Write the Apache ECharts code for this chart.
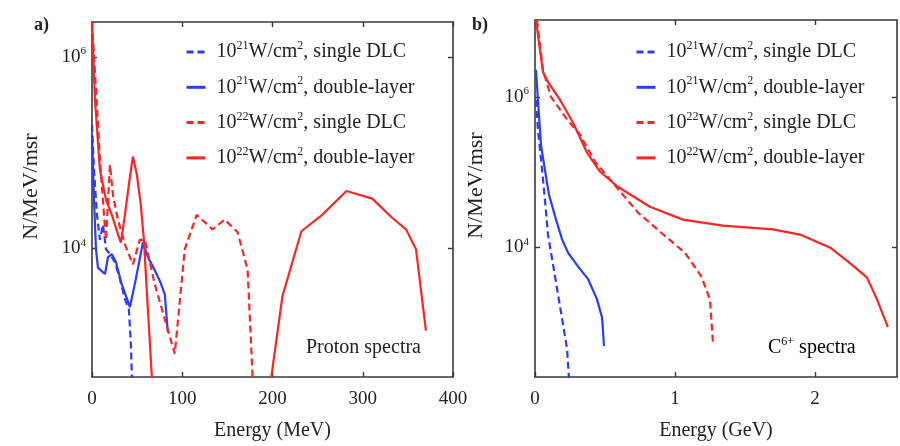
<!DOCTYPE html>
<html>
<head>
<meta charset="utf-8">
<script src="https://cdn.jsdelivr.net/npm/echarts@6/dist/echarts.min.js"></script>
<style>
  html, body { margin: 0; padding: 0; background: #fff; }
  #chart { width: 900px; height: 446px; }
</style>
</head>
<body>
<div id="chart"></div>
<script>
// ---- Series names (legend entries) ----
const seriesNames = [
  '10^21W/cm^2, single DLC',
  '10^21W/cm^2, double-layer',
  '10^22W/cm^2, single DLC',
  '10^22W/cm^2, double-layer'
];

// ---- Proton spectra: energy in MeV, N/MeV/msr ----
const protonBlueDashE = [0, 2.2, 5.5, 8.8, 12.2, 15.5, 19.9, 25.4, 30.9, 36.5, 40.9, 43.1, 44.2, 45.3];
const protonBlueDashN = [1.95e5, 6.6e4, 2.24e4, 1.23e4, 1.78e4, 9.8e3, 8.7e3, 7.2e3, 4.8e3, 2.95e3, 2.29e3, 1.0e3, 457, 166];

const protonBlueSolidE = [0, 2.2, 4.4, 6.6, 11, 14.4, 17.7, 22, 26.5, 33, 42, 48.6, 56.4, 61.9, 67.4, 75.1, 80.7, 84];
const protonBlueSolidN = [1.55e5, 3.24e4, 9.8e3, 6.3e3, 5.75e3, 5.4e3, 8.1e3, 8.7e3, 7.2e3, 4.2e3, 2.43e3, 4.8e3, 1.15e4, 8.1e3, 6.5e3, 4.6e3, 3.3e3, 1.33e3];

const protonRedDashE = [0, 4.4, 8.8, 13.3, 15.5, 19.9, 23.2, 28.7, 36.5, 45.3, 53, 58.6, 69.6, 80.7, 91.7, 102.8, 116, 133.7, 147, 161.3, 172.4, 177.9, 179];
const protonRedDashN = [2.32e6, 4.57e5, 8.5e4, 2.24e4, 1.23e4, 7.5e4, 3.63e4, 2.0e4, 1.1e4, 6.8e3, 1.23e4, 1.23e4, 4.2e3, 1.82e3, 794, 9.8e3, 2.24e4, 1.58e4, 2.0e4, 1.48e4, 6.0e3, 468, 166];

// double-layer 10^22: low-energy part, a gap, then the high-energy bump
const protonRedSolidE = [0, 3.3, 8.8, 15.5, 22, 28.7, 32, 36.5, 40.9, 45.3, 49.7, 54, 57.5, 61.9, 66.3, 68.5,
                         130,
                         192, 198.9, 211, 232, 255, 282, 310.5, 332.6, 348, 359, 370];
const protonRedSolidN = [2.32e6, 3.55e5, 6.6e4, 3.24e4, 2.24e4, 1.41e4, 1.15e4, 2.24e4, 4.68e4, 9.1e4, 5.9e4, 2.9e4, 1.23e4, 2.3e3, 457, 166,
                         null,
                         158, 468, 3.16e3, 1.51e4, 2.24e4, 3.98e4, 3.31e4, 2.09e4, 1.58e4, 9.8e3, 1.38e3];

// ---- C6+ spectra: energy in GeV, N/MeV/msr ----
const carbonBlueDashE = [0.007, 0.021, 0.043, 0.064, 0.093, 0.129, 0.164, 0.2, 0.229, 0.243];
const carbonBlueDashN = [9.1e5, 3.63e5, 1.48e5, 5.9e4, 1.48e4, 5.9e3, 2.4e3, 955, 447, 178];

const carbonBlueSolidE = [0.007, 0.021, 0.043, 0.071, 0.10, 0.15, 0.193, 0.236, 0.307, 0.379, 0.443, 0.479, 0.493];
const carbonBlueSolidN = [2.29e6, 9.1e5, 2.29e5, 1.07e5, 5.0e4, 2.34e4, 1.29e4, 8.5e3, 5.6e3, 3.8e3, 2.04e3, 1.17e3, 490];

const carbonRedDashE = [0.014, 0.057, 0.114, 0.229, 0.321, 0.429, 0.586, 0.736, 0.90, 1.071, 1.186, 1.25, 1.271];
const carbonRedDashN = [1.05e7, 2.29e6, 1.0e6, 5.0e5, 3.16e5, 1.38e5, 6.2e4, 2.9e4, 1.58e4, 8.5e3, 4.2e3, 2.04e3, 550];

const carbonRedSolidE = [0.007, 0.057, 0.093, 0.179, 0.271, 0.371, 0.464, 0.586, 0.821, 1.057, 1.343, 1.70, 1.893, 2.107, 2.25, 2.371, 2.443, 2.521];
const carbonRedSolidN = [1.05e7, 2.14e6, 1.58e6, 9.1e5, 4.57e5, 1.82e5, 1.02e5, 6.5e4, 3.47e4, 2.34e4, 1.95e4, 1.74e4, 1.48e4, 1.0e4, 6.2e3, 4.0e3, 2.04e3, 871];

// ---- Axis ranges and tick labels ----
const protonAxisE = { min: 0, max: 400, interval: 100 };
const protonAxisN = { min: 453, max: 2.32e6 };
const carbonAxisE = { min: 0, max: 2.586 };
const carbonTicksE = [0, 1, 2];
const carbonAxisN = { min: 190, max: 1.05e7 };
const decadeTicks = [1e4, 1e6];

const SERIF = '"Liberation Serif", "DejaVu Serif", serif';
const INK = '#222';
const AXIS_INK = '#3a3a3a';
const BLUE = '#2a3cff';
const RED = '#ff2424';

function pairs(xs, ys) {
  return xs.map((x, i) => [x, ys[i]]);
}

const chart = echarts.init(document.getElementById('chart'), null, { renderer: 'canvas' });

const supRich = {
  n: { fontFamily: SERIF, fontSize: 20, color: INK, lineHeight: 24 },
  s: { fontFamily: SERIF, fontSize: 12, color: INK, lineHeight: 12, verticalAlign: 'top' },
  g: { width: 6 }
};
const tickRich = {
  n: { fontFamily: SERIF, fontSize: 19, color: INK, lineHeight: 22 },
  s: { fontFamily: SERIF, fontSize: 11, color: INK, lineHeight: 11, verticalAlign: 'top' }
};

function legendText(name) {
  const m = name.match(/^10\^(\d+)W\/cm\^2(.*)$/);
  return '{g|}{n|10}{s|' + m[1] + '}{n|W/cm}{s|2}{n|' + m[2] + '}';
}
function decadeLabel(v) {
  return '{n|10}{s|' + Math.round(Math.log10(v)) + '}';
}

function valueAxisX(gridIndex, range, name, labelValues) {
  const ax = {
    type: 'value', gridIndex, min: range.min, max: range.max,
    name, nameLocation: 'middle', nameGap: 44,
    nameTextStyle: { fontFamily: SERIF, fontSize: 20, color: INK },
    axisLine: { show: true, onZero: false, lineStyle: { color: AXIS_INK, width: 1.6 } },
    axisTick: { show: true, inside: true, length: 5, lineStyle: { color: AXIS_INK, width: 1.4 } },
    axisLabel: { fontFamily: SERIF, fontSize: 19, color: INK, margin: 13 },
    splitLine: { show: false }
  };
  if (range.interval) ax.interval = range.interval;
  if (labelValues) {
    ax.axisLabel.customValues = labelValues;
    ax.axisTick.customValues = labelValues;
  }
  return ax;
}
function mirrorAxisX(gridIndex, range, labelValues) {
  const ax = {
    type: 'value', gridIndex, position: 'top', min: range.min, max: range.max,
    axisLine: { show: true, onZero: false, lineStyle: { color: AXIS_INK, width: 1.6 } },
    axisTick: { show: true, inside: true, length: 5, lineStyle: { color: AXIS_INK, width: 1.4 } },
    axisLabel: { show: false },
    splitLine: { show: false }
  };
  if (range.interval) ax.interval = range.interval;
  if (labelValues) ax.axisTick.customValues = labelValues;
  return ax;
}
function logAxisY(gridIndex, range, nameGap) {
  return {
    type: 'log', logBase: 10, gridIndex, min: range.min, max: range.max,
    name: 'N/MeV/msr', nameLocation: 'middle', nameGap,
    nameTextStyle: { fontFamily: SERIF, fontSize: 22, color: INK, padding: [0, 0, 0, 26] },
    axisLine: { show: true, onZero: false, lineStyle: { color: AXIS_INK, width: 1.6 } },
    axisTick: { show: true, inside: true, length: 5, customValues: decadeTicks, lineStyle: { color: AXIS_INK, width: 1.4 } },
    axisLabel: { customValues: decadeTicks, formatter: decadeLabel, rich: tickRich, margin: 6 },
    splitLine: { show: false }
  };
}
function mirrorLogY(gridIndex, range) {
  return {
    type: 'log', logBase: 10, gridIndex, position: 'right', min: range.min, max: range.max,
    axisLine: { show: true, onZero: false, lineStyle: { color: AXIS_INK, width: 1.6 } },
    axisTick: { show: true, inside: true, length: 5, customValues: decadeTicks, lineStyle: { color: AXIS_INK, width: 1.4 } },
    axisLabel: { show: false },
    splitLine: { show: false }
  };
}

function lineSeries(name, data, color, dashed, xAxisIndex, yAxisIndex) {
  return {
    type: 'line', name, data, xAxisIndex, yAxisIndex,
    showSymbol: false, symbol: 'none', smooth: false, clip: true,
    connectNulls: false, animation: false,
    lineStyle: { color, width: 2.2, type: dashed ? [7, 4] : 'solid' },
    itemStyle: { color }
  };
}

function panelLegend(left) {
  return {
    data: seriesNames, orient: 'vertical', left, top: 40, padding: 0,
    itemWidth: 19, itemHeight: 12, itemGap: 13.3,
    selectedMode: false,
    formatter: legendText,
    // line-only keys: the marker dot is hidden, the stroke keeps the series dash
    itemStyle: { opacity: 0 },
    lineStyle: { width: 3 },
    textStyle: { rich: supRich, fontFamily: SERIF, fontSize: 20, color: INK }
  };
}

const option = {
  backgroundColor: '#fff',
  animation: false,
  grid: [
    { left: 92, top: 22, width: 361, height: 356 },
    { left: 535, top: 20, width: 362, height: 358 }
  ],
  xAxis: [
    valueAxisX(0, protonAxisE, 'Energy (MeV)'),
    mirrorAxisX(0, protonAxisE),
    valueAxisX(1, carbonAxisE, 'Energy (GeV)', carbonTicksE),
    mirrorAxisX(1, carbonAxisE, carbonTicksE)
  ],
  yAxis: [
    logAxisY(0, protonAxisN, 50),
    mirrorLogY(0, protonAxisN),
    logAxisY(1, carbonAxisN, 48),
    mirrorLogY(1, carbonAxisN)
  ],
  legend: [panelLegend(185), panelLegend(635)],
  series: [
    lineSeries(seriesNames[0], pairs(protonBlueDashE, protonBlueDashN), BLUE, true, 0, 0),
    lineSeries(seriesNames[1], pairs(protonBlueSolidE, protonBlueSolidN), BLUE, false, 0, 0),
    lineSeries(seriesNames[2], pairs(protonRedDashE, protonRedDashN), RED, true, 0, 0),
    lineSeries(seriesNames[3], pairs(protonRedSolidE, protonRedSolidN), RED, false, 0, 0),
    lineSeries(seriesNames[0], pairs(carbonBlueDashE, carbonBlueDashN), BLUE, true, 2, 2),
    lineSeries(seriesNames[1], pairs(carbonBlueSolidE, carbonBlueSolidN), BLUE, false, 2, 2),
    lineSeries(seriesNames[2], pairs(carbonRedDashE, carbonRedDashN), RED, true, 2, 2),
    lineSeries(seriesNames[3], pairs(carbonRedSolidE, carbonRedSolidN), RED, false, 2, 2)
  ],
  graphic: [
    { type: 'text', left: 34, top: 16, style: { text: 'a)', font: 'bold 18px ' + SERIF, fill: INK } },
    { type: 'text', left: 472, top: 16, style: { text: 'b)', font: 'bold 18px ' + SERIF, fill: INK } },
    { type: 'text', left: 306, top: 338, style: { text: 'Proton spectra', font: '20px ' + SERIF, fill: INK } },
    {
      type: 'text', left: 768, top: 336,
      style: {
        text: '{n|C}{s|6+}{n| spectra}',
        rich: supRich
      }
    }
  ]
};

chart.setOption(option);
</script>
</body>
</html>
